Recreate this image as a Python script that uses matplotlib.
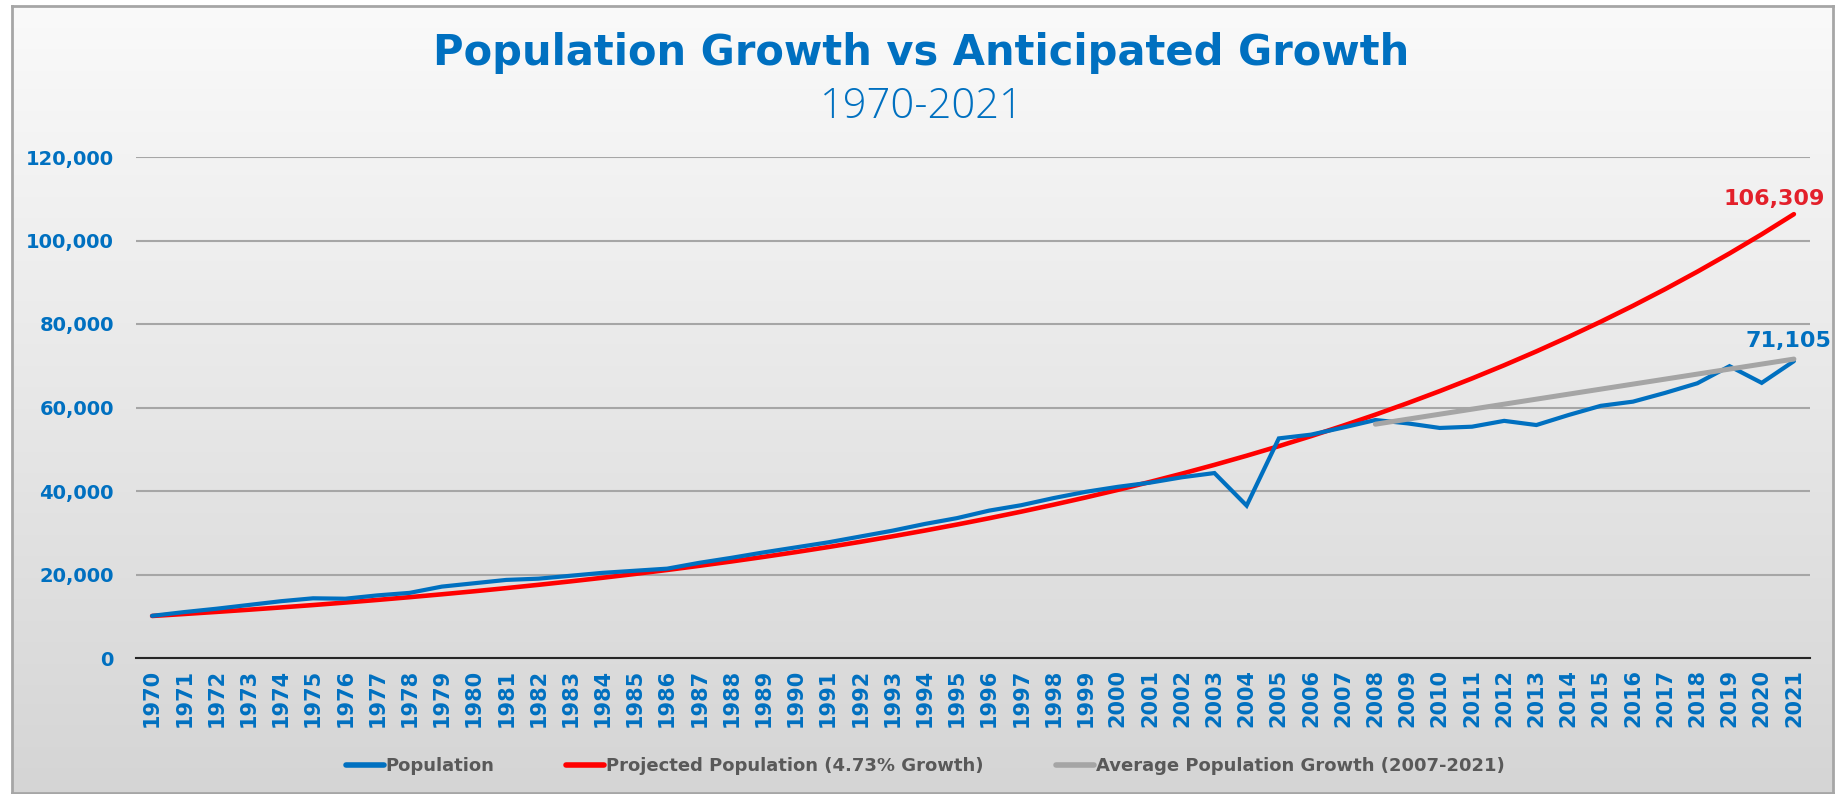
import numpy as np
import matplotlib
matplotlib.use('Agg')
import matplotlib.pyplot as plt
from matplotlib.ticker import FuncFormatter

# ---- data ----
years = list(range(1970, 2022))

population = [10100, 11000, 11800, 12700, 13600, 14300, 14200, 15000, 15600, 17100,
              17900, 18700, 19000, 19700, 20400, 20900, 21400, 22800, 24000, 25300,
              26500, 27700, 29100, 30500, 32100, 33500, 35300, 36600, 38300, 39800,
              41000, 42000, 43300, 44300, 36500, 52600, 53500, 55200, 57000, 56200,
              55100, 55400, 56800, 55800, 58200, 60400, 61400, 63500, 65800, 69900,
              65900, 71105]

projected = [10066, 10542, 11041, 11563, 12110, 12683, 13283, 13911, 14569, 15258,
             15980, 16736, 17528, 18357, 19225, 20134, 21086, 22083, 23128, 24222,
             25368, 26568, 27825, 29141, 30519, 31963, 33475, 35058, 36716, 38453,
             40272, 42177, 44172, 46261, 48449, 50741, 53141, 55655, 58287, 61044,
             63931, 66955, 70122, 73439, 76913, 80551, 84361, 88351, 92530, 96907,
             101491, 106309]

avg_years = [2008, 2021]
avg_growth = [56000, 71600]

BLUE = '#0070C0'
RED = '#FF0000'
GREY = '#A5A5A5'

W, H = 1843, 794
plt.rcParams['font.family'] = 'DejaVu Sans'

fig = plt.figure(figsize=(W / 100, H / 100), dpi=100)
fig.patch.set_facecolor('white')

# gradient background inside the chart frame
fl, fr, ft, fb = 12, 1833, 6, 793
bg = fig.add_axes([fl / W, 1 - fb / H, (fr - fl) / W, (fb - ft) / H], zorder=0)
grad = np.linspace(0, 1, 256).reshape(-1, 1)
c_top = np.array([0.98, 0.98, 0.98])
c_bot = np.array([0.835, 0.835, 0.835])
img = c_top + (c_bot - c_top) * grad[..., None]
bg.imshow(np.repeat(img, 2, axis=1), aspect='auto', extent=[0, 1, 0, 1])
bg.set_xticks([]); bg.set_yticks([])
for s in bg.spines.values():
    s.set_color('#A6A6A6'); s.set_linewidth(2)

# plot area
pl, pr, pt, pb = 136, 1810, 157, 658
ax = fig.add_axes([pl / W, 1 - pb / H, (pr - pl) / W, (pb - pt) / H], zorder=1)
ax.patch.set_alpha(0)

ax.plot(years, population, color=BLUE, lw=3.0, solid_capstyle='round',
        solid_joinstyle='miter', label='Population', zorder=4)
ax.plot(years, projected, color=RED, lw=3.3, solid_capstyle='round',
        label='Projected Population (4.73% Growth)', zorder=3)
ax.plot(avg_years, avg_growth, color=GREY, lw=3.6, solid_capstyle='round',
        label='Average Population Growth (2007-2021)', zorder=5)

ax.annotate(f'{projected[-1]:,}', xy=(years[-1], projected[-1]), xytext=(-14, 4),
            textcoords='offset points', ha='center', va='bottom',
            fontsize=16, fontweight='bold', color='#E3202A', annotation_clip=False)
ax.annotate(f'{population[-1]:,}', xy=(years[-1], population[-1]), xytext=(-4, 7),
            textcoords='offset points', ha='center', va='bottom',
            fontsize=16, fontweight='bold', color=BLUE, annotation_clip=False)

ax.set_xlim(1969.5, 2021.5)
ax.set_ylim(0, 120000)
ax.set_yticks(range(0, 120001, 20000))
ax.yaxis.set_major_formatter(FuncFormatter(lambda v, p: f'{int(v):,}'))
ax.set_xticks(years)
ax.set_xticklabels([str(y) for y in years], rotation=90)
ax.tick_params(axis='y', length=0, pad=16, labelsize=14, labelcolor=BLUE)
ax.tick_params(axis='x', length=0, pad=8, labelsize=15, labelcolor=BLUE)
for lab in ax.get_xticklabels() + ax.get_yticklabels():
    lab.set_fontweight('bold')

ax.grid(axis='y', color='#A6A6A6', lw=1.5, zorder=1)
ax.set_axisbelow(True)
for side in ['top', 'right', 'left']:
    ax.spines[side].set_visible(False)
ax.spines['bottom'].set_color('#262626')
ax.spines['bottom'].set_linewidth(1.5)

leg = fig.legend(loc='center', bbox_to_anchor=(925 / W, 1 - 766 / H), ncol=3,
                 frameon=False, fontsize=13, handlelength=2.1, handletextpad=0.1,
                 columnspacing=4.0)
for t in leg.get_texts():
    t.set_color('#595959'); t.set_fontweight('bold')
for h in leg.legend_handles:
    h.set_linewidth(4)

fig.text(0.5, 1 - 65 / H, 'Population Growth vs Anticipated Growth', ha='center',
         va='baseline', fontsize=30, fontweight='bold', color=BLUE, zorder=3)
fig.text(0.5, 1 - 118 / H, '1970-2021', ha='center', va='baseline',
         fontsize=30, fontweight='light', family='Open Sans', color=BLUE, zorder=3)

fig.savefig('out.png', dpi=100)
